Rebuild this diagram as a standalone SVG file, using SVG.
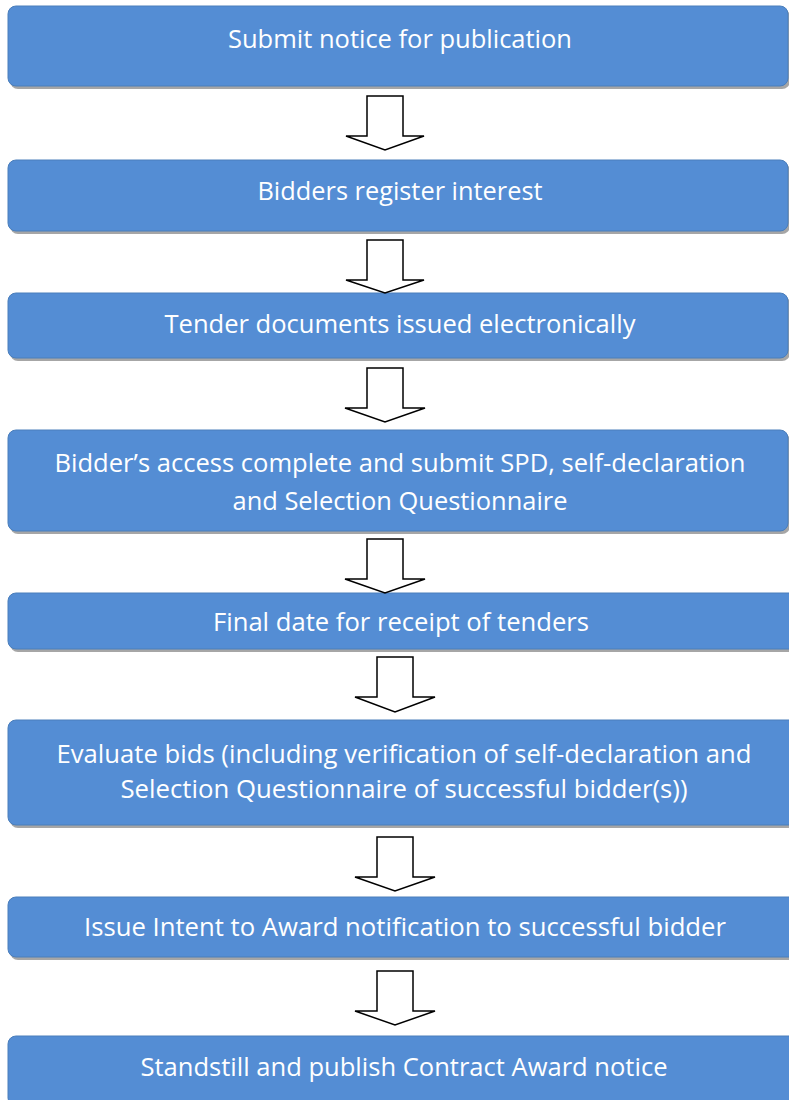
<svg xmlns="http://www.w3.org/2000/svg" width="789" height="1100" viewBox="0 0 789 1100">
<style>
.box{fill:#548dd4;stroke:#4a7ebb;stroke-width:1}
.sh{fill:#a6a6a6}
.t{font-family:"Open Sans","Liberation Sans",sans-serif;font-size:25px;fill:#ffffff;text-anchor:middle}
.arr{fill:#ffffff;stroke:#000000;stroke-width:1.5;stroke-linejoin:miter}
</style>
<rect width="789" height="1100" fill="#ffffff"/>
<g id="n1">
<rect class="sh" x="10" y="9" width="780" height="80" rx="8"/>
<rect class="box" x="8" y="6" width="780" height="80" rx="8"/>
<text class="t" x="400" y="48" textLength="344" lengthAdjust="spacingAndGlyphs">Submit notice for publication</text>
</g>
<g id="n2">
<rect class="sh" x="10" y="163" width="780" height="71" rx="8"/>
<rect class="box" x="8" y="160" width="780" height="71" rx="8"/>
<text class="t" x="400" y="200" textLength="285" lengthAdjust="spacingAndGlyphs">Bidders register interest</text>
</g>
<g id="n3">
<rect class="sh" x="10" y="296" width="780" height="65" rx="8"/>
<rect class="box" x="8" y="293" width="780" height="65" rx="8"/>
<text class="t" x="400" y="333" textLength="471" lengthAdjust="spacingAndGlyphs">Tender documents issued electronically</text>
</g>
<g id="n4">
<rect class="sh" x="10" y="433" width="780" height="101" rx="8"/>
<rect class="box" x="8" y="430" width="780" height="101" rx="8"/>
<text class="t" x="400" y="472" textLength="691" lengthAdjust="spacingAndGlyphs">Bidder’s access complete and submit SPD, self-declaration</text>
<text class="t" x="400" y="510" textLength="335" lengthAdjust="spacingAndGlyphs">and Selection Questionnaire</text>
</g>
<g id="n5">
<rect class="sh" x="10" y="596" width="800" height="56" rx="8"/>
<rect class="box" x="8" y="593" width="800" height="56" rx="8"/>
<text class="t" x="401" y="631" textLength="376" lengthAdjust="spacingAndGlyphs">Final date for receipt of tenders</text>
</g>
<g id="n6">
<rect class="sh" x="10" y="723" width="800" height="105" rx="8"/>
<rect class="box" x="8" y="720" width="800" height="105" rx="8"/>
<text class="t" x="404" y="763" textLength="695" lengthAdjust="spacingAndGlyphs">Evaluate bids (including verification of self-declaration and</text>
<text class="t" x="404" y="798" textLength="567" lengthAdjust="spacingAndGlyphs">Selection Questionnaire of successful bidder(s))</text>
</g>
<g id="n7">
<rect class="sh" x="10" y="900" width="800" height="60" rx="8"/>
<rect class="box" x="8" y="897" width="800" height="60" rx="8"/>
<text class="t" x="405" y="936" textLength="642" lengthAdjust="spacingAndGlyphs">Issue Intent to Award notification to successful bidder</text>
</g>
<g id="n8">
<rect class="sh" x="10" y="1039" width="800" height="70" rx="8"/>
<rect class="box" x="8" y="1036" width="800" height="70" rx="8"/>
<text class="t" x="404" y="1076" textLength="527" lengthAdjust="spacingAndGlyphs">Standstill and publish Contract Award notice</text>
</g>
<g id="connectors">
<polygon class="arr" points="367,96 403,96 403,136 424,136 385,150 346,136 367,136"/>
<polygon class="arr" points="367,240 403,240 403,280 424,280 385,293 346,280 367,280"/>
<polygon class="arr" points="367,368 403,368 403,408 425,408 385,422 345,408 367,408"/>
<polygon class="arr" points="367,539 403,539 403,579 425,579 385,593 345,579 367,579"/>
<polygon class="arr" points="377,657 413,657 413,697 435,697 395,712 355,697 377,697"/>
<polygon class="arr" points="377,837 413,837 413,877 435,877 395,891 355,877 377,877"/>
<polygon class="arr" points="377,971 413,971 413,1011 435,1011 395,1025 355,1011 377,1011"/>
</g>
</svg>
